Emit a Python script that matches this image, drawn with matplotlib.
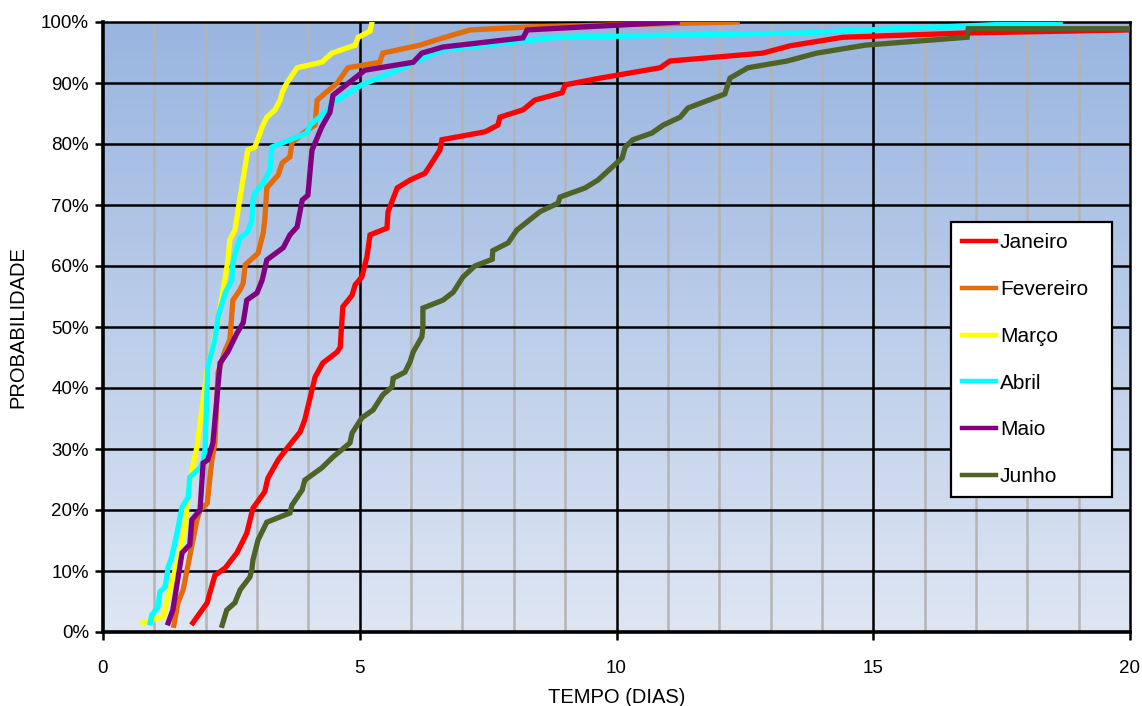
import numpy as np
import matplotlib
matplotlib.use("Agg")
import matplotlib.pyplot as plt
from matplotlib.colors import LinearSegmentedColormap
from matplotlib.ticker import MultipleLocator, FuncFormatter

plt.rcParams['font.family'] = ['Liberation Sans', 'DejaVu Sans']

# Curvas de probabilidade acumulada (tempo em dias, probabilidade em %)
jan_x = [1.75, 2.03, 2.08, 2.18, 2.38, 2.61, 2.80, 2.92, 3.15, 3.21, 3.41, 3.60, 3.84, 3.93,
         4.13, 4.28, 4.56, 4.62, 4.67, 4.85, 4.91, 5.04, 5.14, 5.20, 5.53, 5.55, 5.73, 5.98,
         6.27, 6.41, 6.56, 6.60, 7.44, 7.69, 7.73, 8.18, 8.41, 8.94, 9.00, 9.68, 10.85, 11.04,
         12.85, 13.38, 14.41, 16.83, 20.0]
jan_y = [1.5, 4.8, 6.4, 9.3, 10.5, 13.0, 16.2, 20.3, 23.0, 25.2, 28.2, 30.3, 32.8, 34.8,
         41.8, 44.1, 45.9, 46.7, 53.3, 55.2, 56.9, 58.2, 61.5, 65.1, 66.2, 68.9, 72.8, 74.1,
         75.2, 77.0, 79.0, 80.7, 82.0, 83.1, 84.4, 85.6, 87.2, 88.4, 89.7, 90.8, 92.5, 93.6,
         94.9, 96.1, 97.5, 98.2, 98.7]

fev_x = [1.38, 1.46, 1.56, 1.83, 1.89, 2.03, 2.12, 2.18, 2.24, 2.38, 2.47, 2.53, 2.67, 2.73,
         2.77, 3.02, 3.12, 3.15, 3.19, 3.41, 3.49, 3.64, 3.68, 3.93, 4.13, 4.17, 4.56, 4.77,
         5.39, 5.45, 6.17, 6.62, 7.15, 8.32, 12.35]
fev_y = [1.1, 4.8, 6.9, 18.4, 20.0, 21.1, 28.2, 31.0, 42.5, 46.2, 47.9, 54.4, 56.1, 57.2,
         60.2, 62.1, 65.4, 67.5, 72.8, 74.9, 76.9, 77.9, 80.2, 82.0, 83.1, 87.2, 90.0, 92.5,
         93.4, 94.9, 96.2, 97.4, 98.7, 99.2, 100.0]

mar_x = [0.78, 0.97, 1.17, 1.30, 1.50, 1.60, 1.66, 1.69, 1.83, 1.89, 2.03, 2.14, 2.24, 2.38,
         2.43, 2.47, 2.57, 2.67, 2.82, 2.96, 3.10, 3.19, 3.35, 3.45, 3.49, 3.58, 3.78, 4.26,
         4.46, 4.91, 4.97, 5.20, 5.24]
mar_y = [1.5, 2.0, 2.5, 6.9, 13.0, 17.9, 22.1, 24.9, 30.3, 34.3, 43.0, 46.7, 51.1, 58.2,
         60.7, 64.3, 65.9, 71.3, 79.0, 79.5, 82.8, 84.4, 85.6, 87.2, 88.5, 90.0, 92.5, 93.4,
         94.9, 96.2, 97.5, 98.5, 100.0]

abr_x = [0.92, 0.95, 1.07, 1.11, 1.21, 1.27, 1.34, 1.44, 1.54, 1.66, 1.69, 1.89, 1.95, 1.99,
         2.04, 2.18, 2.24, 2.38, 2.51, 2.53, 2.61, 2.67, 2.82, 2.90, 2.92, 2.96, 3.12, 3.25,
         3.29, 3.97, 4.03, 4.38, 4.46, 5.04, 5.73, 6.04, 6.60, 8.84, 13.57, 14.88, 18.64]
abr_y = [1.5, 2.8, 4.1, 6.6, 7.4, 10.7, 12.3, 16.2, 20.5, 22.1, 25.4, 26.9, 27.9, 30.2,
         43.4, 47.9, 51.6, 55.6, 57.7, 60.5, 63.1, 64.6, 65.6, 67.5, 70.8, 72.0, 73.6, 75.7,
         79.5, 81.8, 83.1, 85.6, 86.7, 89.7, 92.1, 93.3, 95.4, 97.5, 98.2, 98.7, 100.0]

mai_x = [1.27, 1.36, 1.54, 1.69, 1.73, 1.89, 1.95, 2.04, 2.14, 2.28, 2.43, 2.61, 2.73, 2.80,
         3.00, 3.10, 3.19, 3.51, 3.64, 3.78, 3.88, 3.99, 4.07, 4.13, 4.26, 4.42, 4.48, 5.10,
         6.04, 6.21, 6.62, 8.18, 8.26, 11.18]
mai_y = [1.5, 3.6, 13.0, 14.3, 18.4, 20.0, 27.7, 28.2, 31.0, 44.1, 45.9, 49.0, 50.7, 54.4,
         55.6, 57.7, 61.0, 63.0, 65.1, 66.4, 70.8, 71.6, 79.0, 80.2, 82.8, 85.2, 88.0, 92.1,
         93.4, 94.9, 95.9, 97.4, 98.7, 100.0]

jun_x = [2.32, 2.41, 2.57, 2.67, 2.86, 2.90, 2.92, 3.02, 3.19, 3.64, 3.68, 3.88, 3.93, 4.26,
         4.48, 4.81, 4.85, 5.04, 5.26, 5.45, 5.63, 5.65, 5.88, 5.98, 6.04, 6.21, 6.23, 6.23,
         6.62, 6.82, 7.01, 7.24, 7.58, 7.59, 7.89, 8.06, 8.51, 8.86, 8.90, 9.39, 9.64, 10.11,
         10.17, 10.32, 10.69, 10.91, 11.24, 11.39, 12.11, 12.21, 12.56, 13.32, 13.90, 14.84,
         16.83, 16.85, 20.0]
jun_y = [1.1, 3.6, 4.8, 6.9, 9.0, 10.2, 11.8, 15.1, 18.0, 19.5, 20.8, 23.3, 24.9, 26.9,
         28.7, 31.0, 32.6, 35.1, 36.4, 38.9, 40.2, 41.6, 42.6, 44.3, 45.9, 48.4, 50.0, 53.1,
         54.4, 55.7, 58.2, 60.0, 61.1, 62.5, 63.8, 65.9, 68.9, 70.3, 71.3, 72.8, 74.1, 77.7,
         79.5, 80.7, 81.8, 83.1, 84.4, 85.9, 88.2, 90.8, 92.5, 93.6, 94.9, 96.2,
         97.5, 98.9, 98.9]

series = [
    ("Janeiro", jan_x, jan_y, "#FF0000"),
    ("Fevereiro", fev_x, fev_y, "#E46C0A"),
    ("Março", mar_x, mar_y, "#FFFF00"),
    ("Abril", abr_x, abr_y, "#00FFFF"),
    ("Maio", mai_x, mai_y, "#800080"),
    ("Junho", jun_x, jun_y, "#4F6228"),
]

fig = plt.figure(figsize=(11.42, 7.06), dpi=100)
ax = fig.add_axes([103 / 1142, 1 - 632 / 706, 1027 / 1142, 610 / 706])

# fundo em gradiente (azul escuro no topo, claro embaixo)
cmap = LinearSegmentedColormap.from_list("bg", ["#DEE6F3", "#99B5E0"])
grad = np.linspace(0, 1, 256).reshape(-1, 1)
ax.imshow(grad, cmap=cmap, aspect='auto', extent=[0, 20, 0, 100],
          origin='lower', zorder=0)

# grade
for xv in range(1, 20):
    if xv % 5 == 0:
        ax.axvline(xv, color='black', lw=1.8, zorder=1)
    else:
        ax.axvline(xv, color='#B4B4B4', lw=1.8, zorder=1)
for yv in range(10, 100, 10):
    ax.axhline(yv, color='black', lw=1.8, zorder=1)

for name, xs, ys, col in series:
    ax.plot(xs, ys, color=col, lw=3.8, label=name, zorder=3,
            solid_joinstyle='miter')

ax.set_xlim(0, 20)
ax.set_ylim(0, 100)
ax.xaxis.set_major_locator(MultipleLocator(5))
ax.yaxis.set_major_locator(MultipleLocator(10))
ax.yaxis.set_major_formatter(FuncFormatter(lambda v, p: f"{int(v)}%"))
ax.tick_params(axis='both', direction='out', length=6, width=1.8,
               labelsize=13.5, colors='black')
ax.tick_params(axis='x', pad=14)
ax.tick_params(axis='y', pad=4)

ax.spines['left'].set_linewidth(2.6)
ax.spines['bottom'].set_linewidth(2.6)
ax.spines['top'].set_linewidth(1.8)
ax.spines['right'].set_linewidth(1.8)

ax.set_xlabel("TEMPO (DIAS)", fontsize=14.5, labelpad=8)
ax.set_ylabel("PROBABILIDADE", fontsize=14.5, labelpad=10)

# legenda: caixa de 951..1112 px em x, topo em 222 px
lx0 = (951 - 103) / 1027
lw_ = (1112 - 951) / 1027
ltop = (632 - 222) / 610
leg = ax.legend(loc='upper left', bbox_to_anchor=(lx0, ltop - 0.1, lw_, 0.1),
                mode='expand', frameon=True, fancybox=False, fontsize=15,
                handlelength=1.6, handletextpad=0.2, labelspacing=1.33,
                borderpad=0.55, borderaxespad=0)
leg.get_frame().set_edgecolor('black')
leg.get_frame().set_linewidth(1.6)
leg.get_frame().set_facecolor('white')
leg.get_frame().set_alpha(1)
for line in leg.get_lines():
    line.set_linewidth(3.2)
leg.set_zorder(5)

fig.savefig("out.png", dpi=100)
